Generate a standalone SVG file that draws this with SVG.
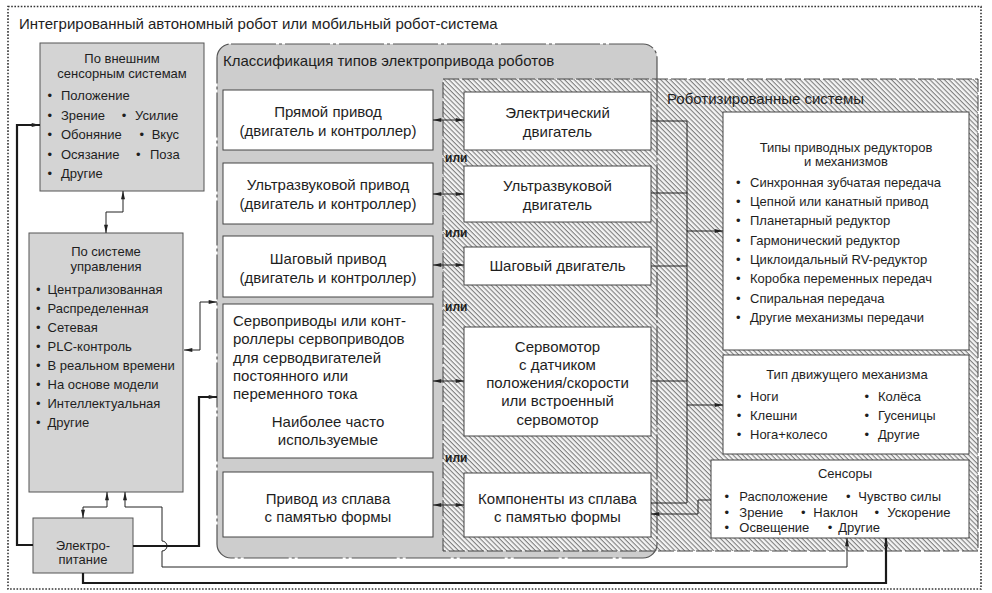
<svg xmlns="http://www.w3.org/2000/svg" width="992" height="593" viewBox="0 0 992 593">
<style>
text{font-family:"Liberation Sans",Arial,sans-serif;fill:#1e1e1e}
.t15{font-size:15px}
.t13{font-size:13px}
.c{text-anchor:middle}
.ili{font-size:12px;font-weight:bold}
.gbox{fill:#d4d4d4;stroke:#555;stroke-width:1}
.wbox{fill:#fff;stroke:#444;stroke-width:1}
.ln{fill:none;stroke:#222;stroke-width:1}
.lnd{fill:none;stroke:#222;stroke-width:1;marker-start:url(#ar);marker-end:url(#ar)}
.lne{fill:none;stroke:#222;stroke-width:1;marker-end:url(#ar)}
.thk{fill:none;stroke:#1a1a1a;stroke-width:2.2;marker-end:url(#ar)}
</style>
<defs>
<pattern id="hatch" patternUnits="userSpaceOnUse" width="3.4" height="3.4" patternTransform="rotate(45)">
<rect width="3.4" height="3.4" fill="#f4f4f4"/>
<rect y="0" width="3.4" height="1.1" fill="#7f7f7f"/>
</pattern>
<marker id="ar" viewBox="0 0 10 6" refX="10" refY="3" markerWidth="9" markerHeight="5" markerUnits="userSpaceOnUse" orient="auto-start-reverse">
<path d="M0,0.6 L10,3 L0,5.4 z" fill="#222"/>
</marker>
</defs>
<rect width="992" height="593" fill="#fff"/>

<g id="system">
<rect x="8" y="6.5" width="973" height="582.5" fill="none" stroke="#333" stroke-width="1.6" stroke-dasharray="1.6 1.6"/>
<text class="t15" x="19" y="29">Интегрированный автономный робот или мобильный робот-система</text>
</g>

<g id="drive-panel-bg">
<rect x="217" y="44" width="440" height="514" rx="14" fill="#cdcdcd"/>
</g>

<g id="robot-systems">
<rect x="443" y="79" width="535" height="472" fill="url(#hatch)" stroke="#444" stroke-width="1" stroke-dasharray="16 3"/>
<text class="t15" x="667" y="104">Роботизированные системы</text>
</g>

<g id="drive-panel">
<rect x="217" y="44" width="440" height="514" rx="14" fill="none" stroke="#555" stroke-width="1.2" stroke-dasharray="45 3 3 3"/>
<text class="t15" x="223" y="66">Классификация типов электропривода роботов</text>
</g>

<g id="ext-sensors">
<rect class="gbox" x="40" y="43" width="164" height="148"/>
<text class="t13 c" x="122" y="63">По внешним</text>
<text class="t13 c" x="122" y="78">сенсорным системам</text>
<text class="t13" y="100"><tspan x="47.5">•</tspan><tspan x="61">Положение</tspan></text>
<text class="t13" y="119.6"><tspan x="47.5">•</tspan><tspan x="61">Зрение</tspan><tspan x="121.7">•</tspan><tspan x="135">Усилие</tspan></text>
<text class="t13" y="139.2"><tspan x="47.5">•</tspan><tspan x="61">Обоняние</tspan><tspan x="139.4">•</tspan><tspan x="151.7">Вкус</tspan></text>
<text class="t13" y="158.8"><tspan x="47.5">•</tspan><tspan x="61">Осязание</tspan><tspan x="136">•</tspan><tspan x="150">Поза</tspan></text>
<text class="t13" y="178.4"><tspan x="47.5">•</tspan><tspan x="61">Другие</tspan></text>
</g>

<g id="control">
<rect class="gbox" x="29" y="233" width="154" height="259"/>
<text class="t13 c" x="106" y="256">По системе</text>
<text class="t13 c" x="106" y="271">управления</text>
<text class="t13" y="294"><tspan x="36">•</tspan><tspan x="47.5">Централизованная</tspan></text>
<text class="t13" y="313"><tspan x="36">•</tspan><tspan x="47.5">Распределенная</tspan></text>
<text class="t13" y="332"><tspan x="36">•</tspan><tspan x="47.5">Сетевая</tspan></text>
<text class="t13" y="351"><tspan x="36">•</tspan><tspan x="47.5">PLC-контроль</tspan></text>
<text class="t13" y="370"><tspan x="36">•</tspan><tspan x="47.5">В реальном времени</tspan></text>
<text class="t13" y="389"><tspan x="36">•</tspan><tspan x="47.5">На основе модели</tspan></text>
<text class="t13" y="408"><tspan x="36">•</tspan><tspan x="47.5">Интеллектуальная</tspan></text>
<text class="t13" y="427"><tspan x="36">•</tspan><tspan x="47.5">Другие</tspan></text>
</g>

<g id="power">
<rect class="gbox" x="33" y="518" width="100" height="55"/>
<text class="t13 c" x="83" y="550">Электро-</text>
<text class="t13 c" x="83" y="564">питание</text>
</g>

<g id="direct-drive">
<rect class="wbox" x="223" y="90" width="210" height="60"/>
<text class="t15 c" x="328" y="117">Прямой привод</text>
<text class="t15 c" x="328" y="136">(двигатель и контроллер)</text>
</g>
<g id="ultrasonic-drive">
<rect class="wbox" x="223" y="163" width="210" height="61"/>
<text class="t15 c" x="328" y="190">Ультразвуковой привод</text>
<text class="t15 c" x="328" y="209">(двигатель и контроллер)</text>
</g>
<g id="stepper-drive">
<rect class="wbox" x="223" y="236" width="210" height="61"/>
<text class="t15 c" x="328" y="263.5">Шаговый привод</text>
<text class="t15 c" x="328" y="282.5">(двигатель и контроллер)</text>
</g>
<g id="servo-drive">
<rect class="wbox" x="223" y="304" width="210" height="154"/>
<text class="t15" x="233" y="326">Сервоприводы или конт-</text>
<text class="t15" x="233" y="344.3">роллеры сервоприводов</text>
<text class="t15" x="233" y="362.6">для серводвигателей</text>
<text class="t15" x="233" y="380.9">постоянного или</text>
<text class="t15" x="233" y="399.2">переменного тока</text>
<text class="t15 c" x="328" y="426.5">Наиболее часто</text>
<text class="t15 c" x="328" y="445">используемые</text>
</g>
<g id="sma-drive">
<rect class="wbox" x="223" y="472" width="210" height="65"/>
<text class="t15 c" x="328" y="503.5">Привод из сплава</text>
<text class="t15 c" x="328" y="522">с памятью формы</text>
</g>

<g id="electric-motor">
<rect class="wbox" x="464" y="92" width="187" height="58"/>
<text class="t15 c" x="557.5" y="117.5">Электрический</text>
<text class="t15 c" x="557.5" y="136.5">двигатель</text>
</g>
<g id="ultrasonic-motor">
<rect class="wbox" x="464" y="166" width="187" height="56"/>
<text class="t15 c" x="557.5" y="190.5">Ультразвуковой</text>
<text class="t15 c" x="557.5" y="209.5">двигатель</text>
</g>
<g id="stepper-motor">
<rect class="wbox" x="464" y="247" width="187" height="38"/>
<text class="t15 c" x="557.5" y="271">Шаговый двигатель</text>
</g>
<g id="servo-motor">
<rect class="wbox" x="464" y="327" width="187" height="109"/>
<text class="t15 c" x="557.5" y="351.5">Сервомотор</text>
<text class="t15 c" x="557.5" y="369.8">с датчиком</text>
<text class="t15 c" x="557.5" y="388.1">положения/скорости</text>
<text class="t15 c" x="557.5" y="406.4">или встроенный</text>
<text class="t15 c" x="557.5" y="424.7">сервомотор</text>
</g>
<g id="sma-components">
<rect class="wbox" x="464" y="473" width="187" height="64"/>
<text class="t15 c" x="557.5" y="503.5">Компоненты из сплава</text>
<text class="t15 c" x="557.5" y="522">с памятью формы</text>
</g>

<g id="or-labels">
<text class="ili" x="445" y="161.5">или</text>
<text class="ili" x="445" y="236.5">или</text>
<text class="ili" x="445" y="310.5">или</text>
<text class="ili" x="445" y="461.5">или</text>
</g>

<g id="gears">
<rect class="wbox" x="723" y="112" width="246" height="238"/>
<text class="t13 c" x="846" y="152">Типы приводных редукторов</text>
<text class="t13 c" x="846" y="166">и механизмов</text>
<text class="t13" y="186.8"><tspan x="736">•</tspan><tspan x="750">Синхронная зубчатая передача</tspan></text>
<text class="t13" y="206.1"><tspan x="736">•</tspan><tspan x="750">Цепной или канатный привод</tspan></text>
<text class="t13" y="225.4"><tspan x="736">•</tspan><tspan x="750">Планетарный редуктор</tspan></text>
<text class="t13" y="244.7"><tspan x="736">•</tspan><tspan x="750">Гармонический редуктор</tspan></text>
<text class="t13" y="264"><tspan x="736">•</tspan><tspan x="750">Циклоидальный RV-редуктор</tspan></text>
<text class="t13" y="283.3"><tspan x="736">•</tspan><tspan x="750">Коробка переменных передач</tspan></text>
<text class="t13" y="302.6"><tspan x="736">•</tspan><tspan x="750">Спиральная передача</tspan></text>
<text class="t13" y="321.9"><tspan x="736">•</tspan><tspan x="750">Другие механизмы передачи</tspan></text>
</g>

<g id="locomotion">
<rect class="wbox" x="723" y="355" width="246" height="99"/>
<text class="t13 c" x="847" y="378.8">Тип движущего механизма</text>
<text class="t13" y="401.2"><tspan x="736.7">•</tspan><tspan x="750">Ноги</tspan><tspan x="864.4">•</tspan><tspan x="878">Колёса</tspan></text>
<text class="t13" y="420.2"><tspan x="736.7">•</tspan><tspan x="750">Клешни</tspan><tspan x="864.4">•</tspan><tspan x="878">Гусеницы</tspan></text>
<text class="t13" y="439.2"><tspan x="736.7">•</tspan><tspan x="750">Нога+колесо</tspan><tspan x="864.4">•</tspan><tspan x="878">Другие</tspan></text>
</g>

<g id="sensors">
<rect class="wbox" x="711" y="460" width="258" height="78"/>
<text class="t13 c" x="845" y="477.8">Сенсоры</text>
<text class="t13" y="501.2"><tspan x="724.4">•</tspan><tspan x="739.3">Расположение</tspan><tspan x="846">•</tspan><tspan x="858.3">Чувство силы</tspan></text>
<text class="t13" y="517.2"><tspan x="724.4">•</tspan><tspan x="739.3">Зрение</tspan><tspan x="801">•</tspan><tspan x="813.3">Наклон</tspan><tspan x="874.4">•</tspan><tspan x="887.3">Ускорение</tspan></text>
<text class="t13" y="532.2"><tspan x="724.4">•</tspan><tspan x="739.3">Освещение</tspan><tspan x="827.7">•</tspan><tspan x="838.3">Другие</tspan></text>
</g>

<g id="connectors">
<path class="lnd" d="M433,120 H464"/>
<path class="lnd" d="M433,194 H464"/>
<path class="lnd" d="M433,265 H464"/>
<path class="lnd" d="M433,381 H464"/>
<path class="lnd" d="M433,505 H464"/>
<path class="ln" d="M651,121 H687 M651,193 H687 M651,266 H687 M651,381 H687 M651,503 H687 M687,121 V503"/>
<path class="lne" d="M687,231 H723"/>
<path class="lne" d="M687,405 H723"/>
<path class="lne" d="M711,500 H698 V514 H651"/>
<path class="lnd" d="M184,350 H200 V302 H217"/>
<path class="lnd" d="M123,191 V212 H106 V233"/>
<path class="lnd" d="M107,492 V507 H83 V518"/>
<path class="lnd" d="M125,492 V507 H162 V541 A5,5 0 0 1 162,551 V567 H847 V538"/>
<path class="thk" d="M33,545 H17 V125 H40"/>
<path class="thk" d="M133,546 H199 V397 H217"/>
<path class="thk" d="M83,573 V583 H886 V538"/>
</g>
</svg>
